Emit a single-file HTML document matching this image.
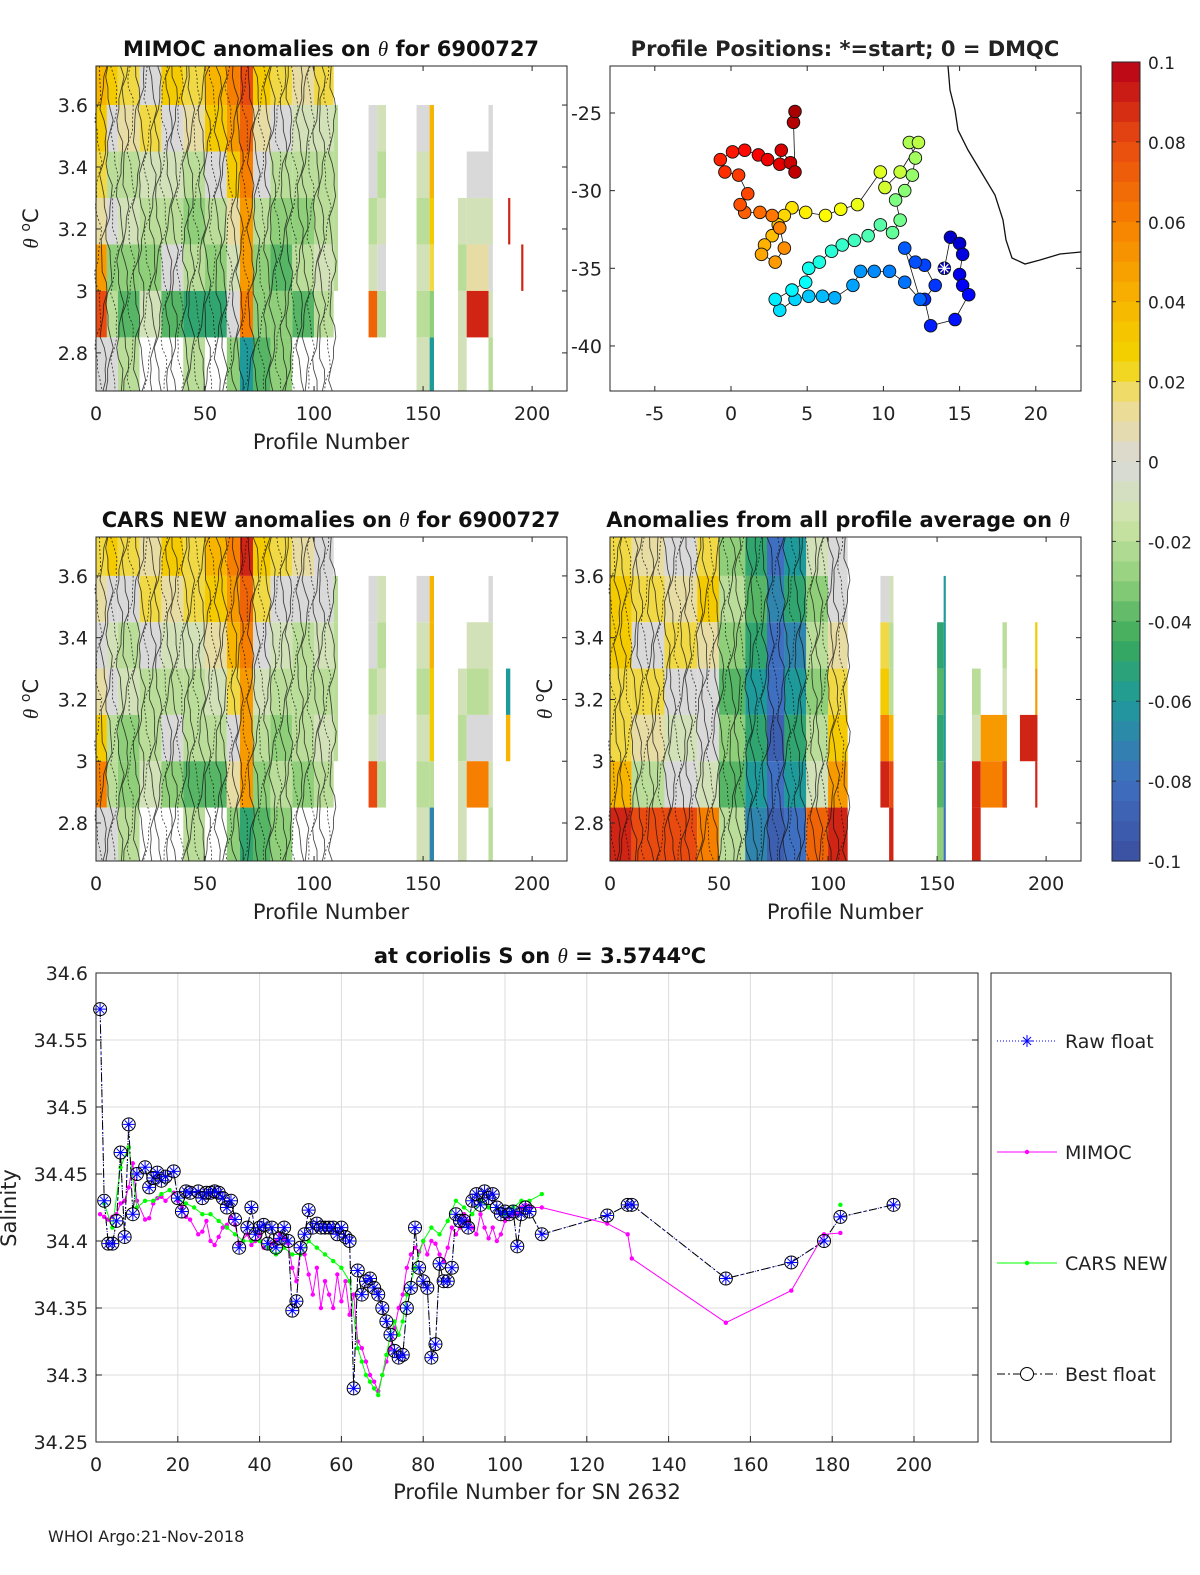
<!DOCTYPE html>
<html><head><meta charset="utf-8">
<style>
html,body{margin:0;padding:0;background:#fff;}
svg{display:block;font-family:"DejaVu Sans","Liberation Sans",sans-serif;}
</style></head>
<body>
<svg id="fig" width="1200" height="1575" viewBox="0 0 1200 1575" xmlns="http://www.w3.org/2000/svg"></svg>
<script>
// ---------- data ----------
const thetaEdges = [3.726,3.6,3.45,3.3,3.15,3.0,2.85,2.677];
// MIMOC anomaly panel
const mColStart = [0,5,10,20,30,40,50,60,66,72,80,90,100,109,125,129,147,153,166,170,180,189,195];
const mColEnd   = [5,10,20,30,40,50,60,66,72,80,90,100,109,111,129,133,153,155,170,180,182,190,196];
const mVals = [
[0.04,0.03,0.02,0.01,0.05,0.08,0.0],
[0.03,0.0,-0.02,0.0,-0.03,-0.02,0.0],
[0.02,0.01,-0.02,-0.01,-0.03,-0.04,-0.02],
[0.0,0.02,-0.01,-0.02,-0.03,-0.01,null],
[0.03,0.0,-0.01,-0.02,0.0,-0.04,null],
[0.02,0.01,-0.02,-0.03,-0.02,-0.05,-0.02],
[0.04,0.03,0.0,-0.02,-0.03,-0.05,null],
[0.06,0.05,0.03,0.01,-0.01,0.0,-0.03],
[0.08,0.07,0.06,0.05,0.05,0.06,-0.06],
[0.03,0.01,0.0,-0.02,-0.03,-0.03,-0.04],
[0.02,0.0,-0.02,-0.03,-0.04,-0.03,-0.03],
[0.01,-0.01,-0.02,-0.03,-0.02,-0.04,null],
[0.02,-0.01,-0.02,-0.02,-0.01,-0.02,null],
[null,-0.02,-0.02,-0.02,-0.02,null,null],
[null,0.0,0.0,-0.02,-0.01,0.07,null],
[null,-0.01,-0.02,-0.01,0.0,-0.02,null],
[null,0.0,-0.01,-0.02,-0.01,-0.02,-0.01],
[null,0.04,0.04,0.03,0.02,-0.03,-0.06],
[null,null,null,-0.01,-0.02,-0.01,-0.01],
[null,null,0.0,-0.01,0.01,0.09,null],
[null,0.0,0.0,-0.01,0.0,-0.01,-0.02],
[null,null,null,0.09,null,null,null],
[null,null,null,null,0.09,null,null]];
// CARS anomaly panel
const cColStart = [0,5,10,20,30,40,50,60,66,72,80,90,100,109,125,129,147,153,166,170,180,188,195];
const cColEnd   = [5,10,20,30,40,50,60,66,72,80,90,100,109,111,129,133,153,155,170,180,182,190,196];
const cVals = [
[0.02,0.01,0.0,0.01,0.03,0.06,0.0],
[0.03,0.0,-0.01,0.0,-0.02,-0.02,0.0],
[0.02,0.0,-0.02,-0.01,-0.03,-0.03,-0.02],
[0.01,0.02,0.0,-0.02,-0.02,-0.01,null],
[0.03,0.01,-0.01,-0.02,0.0,-0.03,null],
[0.02,0.02,-0.01,-0.02,-0.02,-0.04,-0.02],
[0.04,0.03,0.01,-0.01,-0.02,-0.04,null],
[0.06,0.05,0.04,0.02,0.0,0.01,-0.03],
[0.09,0.07,0.06,0.05,0.05,0.05,-0.05],
[0.03,0.02,0.0,-0.01,-0.02,-0.03,-0.04],
[0.02,0.0,-0.01,-0.02,-0.03,-0.02,-0.03],
[0.01,0.0,-0.02,-0.02,-0.02,-0.03,null],
[0.0,0.0,-0.01,-0.02,-0.01,-0.02,null],
[null,-0.02,-0.02,-0.02,-0.02,null,null],
[null,0.0,0.0,-0.02,-0.01,0.08,null],
[null,-0.01,-0.02,-0.01,0.0,-0.02,null],
[null,0.0,-0.01,-0.02,-0.01,-0.02,-0.01],
[null,0.04,0.04,0.03,0.03,-0.02,-0.07],
[null,null,null,-0.01,-0.02,-0.01,-0.01],
[null,null,-0.01,-0.02,0.0,0.06,null],
[null,0.0,-0.01,-0.01,0.0,-0.01,-0.02],
[null,null,null,-0.06,0.04,null,null],
[null,null,null,null,null,null,null]];
// all-profile-average anomaly panel
const aColStart = [0,10,25,40,50,62,72,80,90,100,124,128,150,153,166,170,180,188,195];
const aColEnd   = [10,25,40,50,62,72,80,90,100,109,128,130,153,154,170,182,182,196,196];
const aVals = [
[0.02,0.03,0.03,0.02,0.02,0.04,0.09],
[0.01,0.02,0.0,0.02,0.01,-0.02,0.08],
[0.0,0.01,0.02,0.0,-0.01,0.0,0.08],
[0.02,0.03,0.01,0.0,0.0,-0.01,0.06],
[-0.03,-0.02,-0.03,-0.04,-0.03,-0.04,-0.02],
[-0.05,-0.04,-0.05,-0.06,-0.05,-0.06,-0.07],
[-0.08,-0.07,-0.08,-0.08,-0.09,-0.08,-0.09],
[-0.06,-0.05,-0.07,-0.06,-0.05,-0.06,-0.08],
[-0.01,-0.03,-0.02,-0.03,-0.02,-0.01,0.07],
[0.0,0.0,0.01,0.02,0.03,0.05,0.09],
[null,0.0,0.02,0.03,0.06,0.09,null],
[null,-0.01,-0.02,-0.02,0.04,0.08,0.09],
[null,null,-0.05,-0.04,-0.05,-0.04,-0.03],
[null,-0.06,-0.06,-0.06,-0.06,-0.07,-0.08],
[null,null,null,-0.02,-0.01,0.09,0.09],
[null,null,null,null,0.05,0.06,null],
[null,null,-0.02,-0.01,0.05,0.08,null],
[null,null,null,null,0.09,null,null],
[null,null,0.03,0.05,0.09,0.09,null]];
// profile positions
const posLon = [14.0,14.4,15.0,15.2,15.0,15.2,15.6,14.7,13.1,12.7,13.4,12.7,12.1,11.4,12.4,11.4,10.4,9.4,8.5,8.0,6.8,6.0,5.1,4.2,3.2,2.9,4.0,4.9,5.1,5.8,6.6,7.3,8.1,9.0,9.8,10.6,11.1,10.8,11.4,11.9,12.1,11.7,12.3,11.1,10.1,9.8,8.3,7.2,6.2,4.9,4.0,3.5,3.1,2.7,2.2,2.0,2.9,3.5,3.2,2.7,1.9,0.9,0.6,1.1,0.5,-0.4,-0.7,0.1,0.9,1.8,2.4,3.2,3.3,3.9,4.2,4.1,4.2];
const posLat = [-35.0,-33.0,-33.4,-34.1,-35.4,-36.1,-36.7,-38.3,-38.7,-37.0,-36.1,-34.8,-34.6,-33.7,-37.0,-35.9,-35.2,-35.2,-35.2,-36.1,-36.9,-36.8,-36.8,-37.0,-37.7,-37.0,-36.4,-35.9,-35.0,-34.6,-33.9,-33.5,-33.2,-32.9,-32.2,-32.7,-31.9,-30.6,-30.0,-29.0,-27.9,-26.9,-26.9,-28.8,-29.8,-28.8,-30.9,-31.2,-31.6,-31.4,-31.1,-31.6,-32.2,-32.9,-33.5,-34.1,-34.6,-33.7,-32.4,-31.6,-31.4,-31.4,-30.9,-30.2,-29.0,-28.8,-28.0,-27.5,-27.4,-27.7,-28.0,-28.3,-27.4,-28.2,-28.8,-25.6,-24.9];
// salinity series
const bestX = [1,2,3,4,5,6,7,8,9,10,12,13,14,15,16,17,19,20,21,22,23,25,26,27,28,29,30,31,32,33,34,35,37,38,39,40,41,42,43,44,45,46,47,48,49,50,51,52,53,54,55,56,57,58,59,60,61,62,63,64,65,66,67,68,69,70,71,72,73,74,75,76,77,78,79,80,81,82,83,84,85,86,87,88,89,90,91,92,93,94,95,96,97,98,99,100,101,102,103,104,105,106,109,125,130,131,154,170,178,182,195];
const bestS = [34.573,34.43,34.398,34.398,34.415,34.466,34.403,34.487,34.42,34.45,34.455,34.44,34.447,34.451,34.445,34.448,34.452,34.432,34.422,34.437,34.436,34.437,34.432,34.436,34.436,34.437,34.436,34.432,34.425,34.43,34.416,34.395,34.41,34.425,34.405,34.41,34.412,34.398,34.41,34.395,34.402,34.41,34.40,34.348,34.355,34.395,34.405,34.423,34.41,34.413,34.41,34.41,34.41,34.41,34.405,34.41,34.403,34.40,34.29,34.378,34.36,34.37,34.372,34.365,34.36,34.35,34.34,34.33,34.318,34.313,34.315,34.35,34.365,34.41,34.38,34.37,34.365,34.313,34.323,34.383,34.37,34.37,34.38,34.42,34.415,34.415,34.41,34.43,34.435,34.427,34.437,34.432,34.435,34.425,34.42,34.422,34.42,34.422,34.396,34.42,34.425,34.422,34.405,34.419,34.427,34.427,34.372,34.384,34.40,34.418,34.427];
const mimocX = [1,2,3,4,5,6,7,8,9,10,12,13,14,15,16,17,19,20,21,22,23,25,26,27,28,29,30,31,32,33,34,35,37,38,39,40,41,42,43,44,45,46,47,48,49,50,51,52,53,54,55,56,57,58,59,60,61,62,63,64,65,66,67,68,69,70,71,72,73,74,75,76,77,78,79,80,81,82,83,84,85,86,87,88,89,90,91,92,93,94,95,96,97,98,99,100,101,102,103,104,105,106,109,125,130,131,154,170,178,182];
const mimocS = [34.420,34.418,34.416,34.418,34.42,34.428,34.43,34.44,34.458,34.43,34.416,34.417,34.428,34.432,34.433,34.43,34.436,34.43,34.425,34.418,34.416,34.405,34.407,34.415,34.40,34.397,34.403,34.41,34.412,34.418,34.412,34.398,34.405,34.397,34.40,34.405,34.395,34.395,34.398,34.40,34.405,34.402,34.398,34.38,34.37,34.395,34.39,34.375,34.36,34.38,34.35,34.37,34.36,34.35,34.375,34.355,34.37,34.345,34.36,34.325,34.32,34.31,34.30,34.295,34.288,34.30,34.31,34.32,34.335,34.35,34.36,34.38,34.39,34.395,34.392,34.40,34.39,34.40,34.398,34.39,34.385,34.395,34.41,34.405,34.41,34.42,34.415,34.41,34.405,34.42,34.41,34.402,34.41,34.40,34.405,34.415,34.418,34.42,34.42,34.425,34.427,34.425,34.425,34.413,34.405,34.387,34.339,34.363,34.405,34.406];
const carsX = [2,4,6,8,10,12,14,16,18,20,22,24,26,28,30,32,34,36,38,40,42,44,46,48,50,52,54,56,58,60,62,64,65,66,67,68,69,70,71,72,73,74,75,76,78,80,82,84,86,88,90,92,94,96,98,100,102,104,106,109];
const carsS = [34.428,34.41,34.455,34.47,34.425,34.43,34.43,34.435,34.438,34.432,34.428,34.425,34.42,34.42,34.415,34.41,34.405,34.40,34.40,34.40,34.395,34.39,34.395,34.39,34.39,34.40,34.395,34.39,34.385,34.38,34.37,34.32,34.31,34.30,34.295,34.29,34.285,34.30,34.315,34.33,34.34,34.33,34.34,34.36,34.38,34.40,34.41,34.405,34.415,34.43,34.425,34.42,34.43,34.425,34.425,34.42,34.425,34.43,34.43,34.435];
const carsX2 = [182];
const carsS2 = [34.427];
const salTicks = [34.25,34.3,34.35,34.4,34.45,34.5,34.55,34.6];
const salLabels = ["34.25","34.3","34.35","34.4","34.45","34.5","34.55","34.6"];
const cbTicks = [0.1,0.08,0.06,0.04,0.02,0,-0.02,-0.04,-0.06,-0.08,-0.1];
const cbLabels = ["0.1","0.08","0.06","0.04","0.02","0","-0.02","-0.04","-0.06","-0.08","-0.1"];

// ---------- helpers ----------
const NS="http://www.w3.org/2000/svg";
const svg=document.getElementById('fig');
function mk(tag,attrs,parent){const e=document.createElementNS(NS,tag);for(const k in attrs)e.setAttribute(k,attrs[k]);(parent||svg).appendChild(e);return e;}
function txt(s,x,y,size,anchor,weight,parent){const t=mk('text',{x:x,y:y,'font-size':size,'text-anchor':anchor||'middle','font-weight':weight||'normal',fill:'#222'},parent);t.textContent=s;return t;}
const stops=[[-0.1,[59,79,160]],[-0.08,[63,111,192]],[-0.06,[31,154,154]],[-0.045,[58,170,90]],[-0.03,[143,207,122]],[-0.015,[207,229,168]],[0,[217,217,217]],[0.015,[238,221,138]],[0.025,[242,212,0]],[0.04,[247,181,0]],[0.06,[247,127,0]],[0.08,[232,74,16]],[0.1,[184,0,24]]];
function cmap(v){v=Math.max(-0.1,Math.min(0.1,v));for(let i=0;i<stops.length-1;i++){const a=stops[i],b=stops[i+1];if(v<=b[0]){const t=(v-a[0])/(b[0]-a[0]);const c=a[1].map((x,j)=>Math.round(x+(b[1][j]-x)*t));return 'rgb('+c.join(',')+')';}}return 'rgb(184,0,24)';}
function jet(t){const r=Math.max(0,Math.min(1,1.5-Math.abs(4*t-3))),g=Math.max(0,Math.min(1,1.5-Math.abs(4*t-2))),b=Math.max(0,Math.min(1,1.5-Math.abs(4*t-1)));return 'rgb('+[r,g,b].map(x=>Math.round(x*255)).join(',')+')';}
function titleWithTheta(pre,post,x,y,name){const t=mk('text',{x:x,y:y,'font-size':21,'font-weight':'bold','text-anchor':'middle',fill:'#111'});
  t.innerHTML=pre+'<tspan font-weight="normal" font-style="italic" font-family="Liberation Serif, serif">θ</tspan>'+post;
  return t;}

// ---------- heatmap panel ----------
function heatPanel(name,px0,px1,py0,py1,starts,ends,vals,showYLabel,yTickSide){
  const g=mk('g',{});
  
  
  const xmin=0,xmax=216,tmin=2.677,tmax=3.726;
  const X=v=>px0+(v-xmin)/(xmax-xmin)*(px1-px0);
  const Y=t=>py1-(t-tmin)/(tmax-tmin)*(py1-py0);
  for(let c=0;c<starts.length;c++){
    for(let r=0;r<vals[c].length;r++){
      const v=vals[c][r]; if(v===null) continue;
      const rc=mk('rect',{x:X(starts[c]),y:Y(thetaEdges[r]),width:X(ends[c])-X(starts[c]),height:Y(thetaEdges[r+1])-Y(thetaEdges[r]),fill:cmap(v)},g);
      
      
    }
  }
  const cg=mk('g',{stroke:'#111','stroke-width':0.9,fill:'none',opacity:0.75},g);
  
  
  for(let i=0;i<44;i++){
    const base=1+i*2.5;let d='';
    for(let k=0;k<=30;k++){const t=tmax-(tmax-tmin)*k/30;const xx=X(base+1.3*Math.sin(k*0.9+i*1.7)+0.6*Math.cos(k*2.1+i));d+=(k?'L':'M')+xx.toFixed(1)+' '+Y(t).toFixed(1);}
    mk('path',{d:d,'stroke-dasharray':(i%3===0)?'2 2':'none'},cg);
  }
  mk('rect',{x:px0,y:py0,width:px1-px0,height:py1-py0,fill:'none',stroke:'#262626','stroke-width':1},g);
  [0,50,100,150,200].forEach(v=>{mk('line',{x1:X(v),x2:X(v),y1:py1,y2:py1-5,stroke:'#262626'},g);mk('line',{x1:X(v),x2:X(v),y1:py0,y2:py0+5,stroke:'#262626'},g);txt(String(v),X(v),py1+29,19,'middle','normal',g);});
  [2.8,3.0,3.2,3.4,3.6].forEach(v=>{mk('line',{x1:px0,x2:px0+5,y1:Y(v),y2:Y(v),stroke:'#262626'},g);mk('line',{x1:px1,x2:px1-5,y1:Y(v),y2:Y(v),stroke:'#262626'},g);txt(v===3?'3':v.toFixed(1),yTickSide==='right'?px0-6:px0-8,Y(v)+7,19,'end','normal',g);});
  if(showYLabel){const t=mk('text',{x:0,y:0,'font-size':21,'text-anchor':'middle',fill:'#222',transform:'translate('+(px0-58)+','+((py0+py1)/2)+') rotate(-90)'},g);t.innerHTML='<tspan font-style="italic" font-family="Liberation Serif, serif">θ</tspan> <tspan dy="-8" font-size="14">o</tspan><tspan dy="8">C</tspan>';}
  return g;
}
heatPanel('mimoc-anomaly-heatmap',96,567,66,391,mColStart,mColEnd,mVals,true);
heatPanel('cars-anomaly-heatmap',96,567,537,861,cColStart,cColEnd,cVals,true);
heatPanel('average-anomaly-heatmap',610,1081,537,861,aColStart,aColEnd,aVals,true,'right');

titleWithTheta('MIMOC anomalies on ','  for 6900727',331,56,'title-mimoc');
(function(){const e=txt('Profile Positions: *=start; 0 = DMQC',845,56,21,'middle','bold');})();
titleWithTheta('CARS NEW anomalies on ',' for 6900727',331,527,'title-cars');
titleWithTheta('Anomalies from all profile average on ','',838,527,'title-average');
[[331,449],[331,919],[845,919]].forEach(p=>{const e=txt('Profile Number',p[0],p[1],21);});

// ---------- map ----------
(function(){
  const g=mk('g',{});
  
  
  const X=lon=>731+lon*15.24, Y=lat=>113+(-25-lat)*15.53;
  mk('path',{d:'M948 66 L950 90 L955 110 L958 130 L968 150 L980 170 L995 195 L1003 220 L1006 240 L1012 258 L1025 264 L1040 260 L1060 254 L1081 252',fill:'none',stroke:'#111','stroke-width':1.3},g);
  let d='';posLon.forEach((l,i)=>{d+=(i?'L':'M')+X(l).toFixed(1)+' '+Y(posLat[i]).toFixed(1);});
  const ln=mk('path',{d:d,fill:'none',stroke:'#111','stroke-width':0.8},g);
  
  
  posLon.forEach((l,i)=>{const c=mk('circle',{cx:X(l),cy:Y(posLat[i]),r:6.3,fill:jet(0.06+0.9*i/(posLon.length-1)),stroke:'#111','stroke-width':0.9},g);
    
    });
  const sx=X(posLon[0]),sy=Y(posLat[0]);
  mk('path',{d:`M${sx-6} ${sy}H${sx+6}M${sx} ${sy-6}V${sy+6}M${sx-4} ${sy-4}L${sx+4} ${sy+4}M${sx-4} ${sy+4}L${sx+4} ${sy-4}`,stroke:'#fff','stroke-width':1.2},g);
  mk('rect',{x:610,y:66,width:471,height:325,fill:'none',stroke:'#262626'},g);
  [-5,0,5,10,15,20].forEach(v=>{mk('line',{x1:X(v),x2:X(v),y1:391,y2:386,stroke:'#262626'},g);mk('line',{x1:X(v),x2:X(v),y1:66,y2:71,stroke:'#262626'},g);txt(String(v),X(v),420,19,'middle','normal',g);});
  [-25,-30,-35,-40].forEach(v=>{mk('line',{x1:610,x2:615,y1:Y(v),y2:Y(v),stroke:'#262626'},g);mk('line',{x1:1081,x2:1076,y1:Y(v),y2:Y(v),stroke:'#262626'},g);txt(String(v),602,Y(v)+7,19,'end','normal',g);});
})();

// ---------- colorbar ----------
(function(){
  const g=mk('g',{});
  
  
  const y0=62,y1=861,n=40;
  for(let i=0;i<n;i++){const v=0.1-(i+0.5)*0.2/n;mk('rect',{x:1112,y:y0+i*(y1-y0)/n,width:28,height:(y1-y0)/n+0.6,fill:cmap(v)},g);}
  mk('rect',{x:1112,y:y0,width:28,height:y1-y0,fill:'none',stroke:'#262626'},g);
  cbTicks.forEach((v,i)=>{const y=y0+(0.1-v)/0.2*(y1-y0);mk('line',{x1:1112,x2:1116,y1:y,y2:y,stroke:'#262626'},g);mk('line',{x1:1140,x2:1136,y1:y,y2:y,stroke:'#262626'},g);txt(cbLabels[i],1148,y+7,17,'start','normal',g);});
})();

// ---------- salinity chart ----------
(function(){
  const g=mk('g',{});
  
  
  const px0=96,px1=978,py0=973,py1=1442;
  const X=v=>px0+v*(914-96)/200, Y=s=>py0+(34.6-s)*(py1-py0)/0.35;
  for(let v=20;v<=200;v+=20) mk('line',{x1:X(v),x2:X(v),y1:py0,y2:py1,stroke:'#dcdcdc'},g);
  salTicks.forEach(s=>mk('line',{x1:px0,x2:px1,y1:Y(s),y2:Y(s),stroke:'#dcdcdc'},g));
  function line(xs,ss,color,dash,name){let d='';xs.forEach((x,i)=>{d+=(i?'L':'M')+X(x).toFixed(1)+' '+Y(ss[i]).toFixed(1);});const p=mk('path',{d:d,fill:'none',stroke:color,'stroke-width':1,'stroke-dasharray':dash||'none'},g);}
  line(bestX,bestS,'#00f','1 2','raw-float-line');
  line(mimocX,mimocS,'#f0f',null,'mimoc-line');
  mimocX.forEach((x,i)=>{const c=mk('circle',{cx:X(x),cy:Y(mimocS[i]),r:2.2,fill:'#f0f'},g);});
  line(carsX,carsS,'#0f0',null,'cars-line');
  carsX.forEach((x,i)=>{const c=mk('circle',{cx:X(x),cy:Y(carsS[i]),r:2.2,fill:'#0f0'},g);});
  carsX2.forEach((x,i)=>{const c=mk('circle',{cx:X(x),cy:Y(carsS2[i]),r:2.2,fill:'#0f0'},g);});
  line(bestX,bestS,'#000','8 3 2 3','best-float-line');
  bestX.forEach((x,i)=>{const cx=X(x),cy=Y(bestS[i]);
    const c=mk('circle',{cx:cx,cy:cy,r:6.5,fill:'none',stroke:'#000','stroke-width':1},g);
    
    
    mk('path',{d:`M${cx-6} ${cy}H${cx+6}M${cx} ${cy-6}V${cy+6}M${cx-4} ${cy-4}L${cx+4} ${cy+4}M${cx-4} ${cy+4}L${cx+4} ${cy-4}`,stroke:'#00f','stroke-width':1},g);});
  mk('rect',{x:px0,y:py0,width:px1-px0,height:py1-py0,fill:'none',stroke:'#262626'},g);
  for(let v=0;v<=200;v+=20){mk('line',{x1:X(v),x2:X(v),y1:py1,y2:py1-6,stroke:'#262626'},g);txt(String(v),X(v),py1+29,19,'middle','normal',g);}
  salTicks.forEach((s,k)=>{mk('line',{x1:px0,x2:px0+6,y1:Y(s),y2:Y(s),stroke:'#262626'},g);mk('line',{x1:px1,x2:px1-6,y1:Y(s),y2:Y(s),stroke:'#262626'},g);txt(salLabels[k],px0-8,Y(s)+7,19,'end','normal',g);});
  const t=mk('text',{x:540,y:963,'font-size':21,'font-weight':'bold','text-anchor':'middle',fill:'#111'},g);
  t.innerHTML='at coriolis S on <tspan font-weight="normal" font-style="italic" font-family="Liberation Serif, serif">θ</tspan> = 3.5744<tspan dy="-8" font-size="14">o</tspan><tspan dy="8">C</tspan>';
  
  const xl=txt('Profile Number for SN 2632',537,1499,21,'middle','normal',g);
  const yl=mk('text',{x:0,y:0,'font-size':21,'text-anchor':'middle',fill:'#222',transform:'translate(16,1208) rotate(-90)'},g);yl.textContent='Salinity';
  
  const lg=mk('g',{});
  
  
  mk('rect',{x:991,y:973,width:180,height:469,fill:'#fff',stroke:'#262626'},lg);
  const ents=[['Raw float',1041,'#00f','1 2'],['MIMOC',1152,'#f0f',null],['CARS NEW',1263,'#0f0',null],['Best float',1374,'#000','8 3 2 3']];
  ents.forEach((e,i)=>{const eg=mk('g',{},lg);
    mk('line',{x1:997,x2:1057,y1:e[1],y2:e[1],stroke:e[2],'stroke-dasharray':e[3]||'none'},eg);
    if(i===0) mk('path',{d:'M1021 1041H1033M1027 1035V1047M1023 1037L1031 1045M1023 1045L1031 1037',stroke:'#00f'},eg);
    if(i===1||i===2) mk('circle',{cx:1027,cy:e[1],r:2.2,fill:e[2]},eg);
    if(i===3) mk('circle',{cx:1027,cy:e[1],r:6.5,fill:'#fff',stroke:'#000'},eg);
    txt(e[0],1065,e[1]+7,19,'start','normal',eg);});
})();
const foot=txt('WHOI Argo:21-Nov-2018',48,1542,16,'start');


</script>
</body></html>
